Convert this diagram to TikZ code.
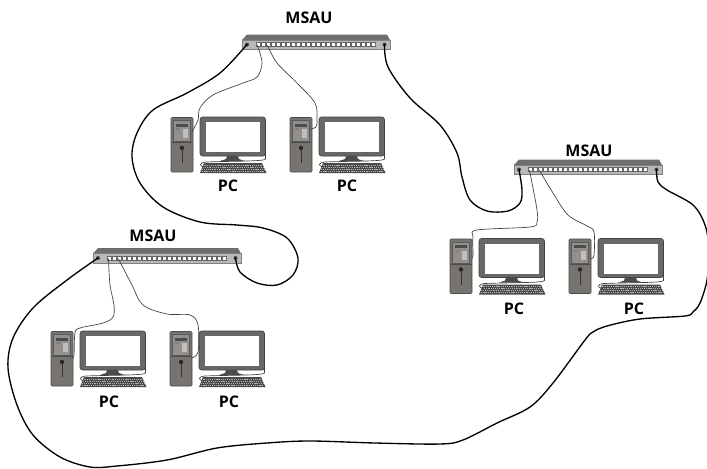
\documentclass[tikz,border=0pt]{standalone}
\usepackage{fontspec}
\setmainfont{Open Sans}
\definecolor{hubtop}{HTML}{6E6E6E}
\definecolor{hubfront}{HTML}{B8B8B8}
\definecolor{towerc}{HTML}{77736F}
\definecolor{monc}{HTML}{6A6866}
\definecolor{keyc}{HTML}{4A4A4A}
\tikzset{
  lbl/.style={font=\fontsize{12}{14}\selectfont\bfseries,inner sep=0pt,text=black},
  ring/.style={line width=1pt,black,line cap=round,line join=round},
  thin cable/.style={line width=.5pt,black!75,line cap=round,line join=round},
  hub/.pic={
    \fill[hubtop] (0,5.5) -- (5,0) -- (145,0) -- (148,5.5) -- cycle;
    \fill[hubfront,draw=black!50,line width=.3pt] (0,5.5) rectangle (148,15);
    \foreach \i in {0,...,23} {
      \fill[white,draw=black!60,line width=.3pt] ({14+\i*5.03},7.8) rectangle +(3.9,3.9);
    }
    \fill[black!75] (5,10) circle (2);
    \fill[black!75] (142.5,10) circle (2);
    \coordinate (-l) at (5,10);
    \coordinate (-r) at (142.5,10);
    \coordinate (-a) at (15.5,11);
    \coordinate (-b) at (25.5,11);
  },
  pcset/.pic={
    % tower
    \fill[towerc,draw=black!70,line width=.4pt,rounded corners=.8pt] (0,0.5) rectangle (22,55);
    \fill[black!65] (2,3) rectangle (20,25);
    \fill[towerc!80!white] (3,4) rectangle (19,24);
    \fill[black!70] (5,6.5) rectangle (17,9.5);
    \fill[black!50] (5,11) rectangle (9,13);
    \fill[white!75!black] (12,12) rectangle (17,21);
    \draw[black!70,line width=.4pt] (0.5,25.5) -- (21.5,25.5);
    \fill[black!85] (11,31) circle (2.2);
    \draw[black!80,line width=.5pt] (11,31) -- (11,46);
    % monitor
    \fill[monc,draw=black!75,line width=.5pt,rounded corners=2pt] (29,0) rectangle (94.5,39);
    \fill[white,draw=black!60,line width=.3pt] (34,4.5) rectangle (89.5,35.5);
    \fill[black!70] (56,39) -- (67,39) -- (68,42) -- (74,44) -- (49,44) -- (55,42) -- cycle;
    % keyboard
    \fill[keyc] (33,46) -- (91,46) -- (95.5,56) -- (29,56) -- cycle;
    \foreach \i in {0,...,3} {
      \draw[white!70!black,line width=.5pt,dash pattern=on .8pt off .6pt] ({32.5-\i*.6},{48+\i*2}) -- ({92+\i*.6},{48+\i*2});
    }
    \draw[thin cable] (94.5,36) -- (94.5,42) .. controls (94,44.5) and (60,44) .. (35,45) .. controls (28,45.5) and (28,49) .. (33,50);
    \coordinate (-c12) at (21,12);
    \coordinate (-c15) at (21,15);
    \coordinate (-c20) at (22,20);
    \coordinate (-c27) at (21.5,27);
  }
}
\begin{document}
\begin{tikzpicture}[x=0.75pt,y=-0.75pt]
\useasboundingbox (0,0) rectangle (707,468);
\fill[white] (0,0) rectangle (707,468);
\pic (h1) at (242,34.5) {hub};
\pic (h2) at (514,159.5) {hub};
\pic (h3) at (93,248) {hub};
\pic (p11) at (171,117) {pcset};
\pic (p12) at (290,117) {pcset};
\pic (p21) at (450,238.5) {pcset};
\pic (p22) at (569,238.5) {pcset};
\pic (p31) at (51,331) {pcset};
\pic (p32) at (170,331) {pcset};
\node[lbl] (t1) at (309,18) {MSAU};
\node[lbl] (t2) at (589,151) {MSAU};
\node[lbl] (t3) at (153,236) {MSAU};
\node[lbl] (l11) at (228,186) {PC};
\node[lbl] (l12) at (347,186) {PC};
\node[lbl] (l21) at (514,309) {PC};
\node[lbl] (l22) at (634,309) {PC};
\node[lbl] (l31) at (109,402) {PC};
\node[lbl] (l32) at (229,402) {PC};
% ring cables
\draw[ring] plot[smooth,tension=.55] coordinates {(h1-l) (220,73) (187,93) (153,110) (137,133) (132,157) (140,183) (163,207) (200,222) (237,225) (263,228) (287,238) (298,258) (293,275) (277,285) (257,283) (240,272) (h3-r)};
\draw[ring] plot[smooth,tension=.55] coordinates {(h1-r) (388,67) (410,98) (440,125) (457,153) (462,177) (470,200) (487,211) (508,211) (520,203) (522,190) (h2-l)};
\draw[ring] plot[smooth,tension=.55] coordinates {(h2-r) (658,182) (667,190) (693,205) (705,225) (709,250) (707,280) (700,303) (693,312) (685,316) (640,319) (607,326) (593,332) (585,340) (553,383) (530,407) (497,423) (463,440) (440,444) (375,443) (310,441) (267,443) (217,448) (167,460) (117,466) (90,467) (60,457) (33,435) (17,405) (8,368) (13,338) (33,308) (67,280) (h3-l)};
% station cables
\draw[thin cable] plot[smooth,tension=.55] coordinates {(h1-a) (262,63) (257,77) (243,83) (213,95) (200,108) (198,120) (p11-c15)};
\draw[thin cable] plot[smooth,tension=.55] coordinates {(h1-b) (277,63) (297,83) (315,103) (317,120) (316,127) (p12-c12)};
\draw[thin cable] plot[smooth,tension=.55] coordinates {(h2-a) (532,183) (537,210) (537,222) (530,227) (477,230) (473,237) (473,255) (p21-c20)};
\draw[thin cable] plot[smooth,tension=.55] coordinates {(h2-b) (553,193) (568,215) (587,226) (594,232) (594,255) (p22-c20)};
\draw[thin cable] plot[smooth,tension=.55] coordinates {(h3-a) (110,285) (114,305) (113,317) (103,323) (80,328) (75,333) (74,355) (p31-c27)};
\draw[thin cable] plot[smooth,tension=.55] coordinates {(h3-b) (132,285) (143,305) (167,314) (190,315) (198,325) (198,352) (p32-c27)};
\end{tikzpicture}
\end{document}
